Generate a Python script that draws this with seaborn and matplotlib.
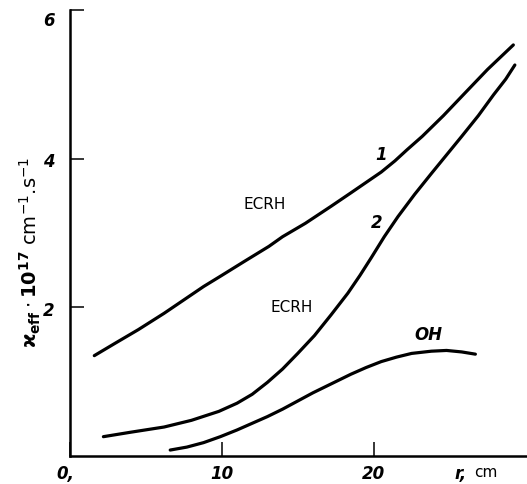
"""Radial profiles of the effective heat diffusivity (ECRH vs OH)."""

import matplotlib

matplotlib.use("Agg")
import matplotlib.pyplot as plt
import pandas as pd
import seaborn as sns

# Curve 1 (ECRH)
r_curve1 = [1.6, 3.0, 4.5, 6.2, 7.5, 8.8, 10.0, 11.5, 13.1, 14.0, 15.5, 17.2, 18.5, 19.5,
            20.5, 21.4, 22.2, 23.2, 24.6, 26.0, 27.5, 29.2]
k_curve1 = [1.35, 1.52, 1.7, 1.92, 2.1, 2.28, 2.43, 2.62, 2.82, 2.95, 3.13, 3.36, 3.54, 3.68,
            3.82, 3.97, 4.12, 4.3, 4.58, 4.88, 5.2, 5.53]

# Curve 2 (ECRH)
r_curve2 = [2.2, 4.0, 6.2, 8.0, 9.8, 11.0, 12.0, 13.0, 14.0, 15.0, 16.1, 17.2, 18.3, 19.1,
            19.85, 20.7, 21.6, 22.7, 23.8, 24.8, 25.8, 26.9, 27.9, 28.7, 29.3]
k_curve2 = [0.26, 0.32, 0.39, 0.48, 0.6, 0.71, 0.83, 0.99, 1.17, 1.38, 1.62, 1.9, 2.19, 2.43,
            2.67, 2.95, 3.22, 3.52, 3.8, 4.05, 4.3, 4.58, 4.86, 5.07, 5.26]

# OH curve
r_oh = [6.6, 7.7, 8.8, 9.9, 11.0, 12.0, 13.0, 14.0, 15.0, 16.0, 17.2, 18.5, 19.5, 20.5,
        21.5, 22.5, 23.8, 24.8, 25.8, 26.7]
k_oh = [0.08, 0.12, 0.18, 0.26, 0.35, 0.44, 0.53, 0.63, 0.74, 0.85, 0.97, 1.1, 1.19, 1.27,
        1.33, 1.38, 1.41, 1.42, 1.4, 1.37]

x_ticks = [0, 10, 20]
x_tick_labels = ["0,", "10", "20"]
y_ticks = [2, 4, 6]

sns.set_style("white")
plt.rcParams["font.family"] = ["DejaVu Sans"]
plt.rcParams["text.color"] = "black"

df = pd.concat(
    [
        pd.DataFrame({"r": r_curve1, "k": k_curve1, "curve": "1"}),
        pd.DataFrame({"r": r_curve2, "k": k_curve2, "curve": "2"}),
        pd.DataFrame({"r": r_oh, "k": k_oh, "curve": "OH"}),
    ],
    ignore_index=True,
)

fig = plt.figure(figsize=(5.27, 4.84), dpi=100)
ax = fig.add_axes([70 / 527, 28 / 484, 1 - 70 / 527, 446 / 484])

for name, grp in df.groupby("curve"):
    sns.lineplot(
        data=grp, x="r", y="k", ax=ax, color="black", linewidth=2.3,
        sort=False, estimator=None, legend=False,
    )

ax.set_xlim(0.28, 30.1)
ax.set_ylim(0, 6)

sns.despine(ax=ax)
for side in ["left", "bottom"]:
    ax.spines[side].set_linewidth(1.8)
    ax.spines[side].set_color("black")

ax.set_xticks(x_ticks)
ax.set_yticks(y_ticks)
ax.tick_params(axis="both", direction="in", length=10, width=1.1, colors="black",
               left=True, bottom=True)
ax.set_xticklabels([])
ax.set_yticklabels([])

# tick labels in the italic bold style of the original
lab_kw = dict(fontsize=12, fontstyle="italic", fontweight="bold", color="black")
for xt, lab in zip(x_ticks, x_tick_labels):
    ax.text(xt if xt else -0.3, -0.12, lab, ha="center", va="top", **lab_kw)
for yt in y_ticks:
    ax.text(-1.0, yt - 0.15 if yt == 6 else yt - 0.05, str(yt), ha="right", va="center", **lab_kw)

ax.text(25.3, -0.12, "r,", ha="left", va="top", **lab_kw)
ax.text(26.6, -0.12, "cm", ha="left", va="top", fontsize=11, color="black")

ax.set_xlabel("")
ax.set_ylabel("")
fig.text(
    30 / 527, 1 - 252 / 484,
    r"$\mathbf{\varkappa_{eff}}\cdot\mathbf{10^{17}}$ cm$^{-1}$.s$^{-1}$",
    rotation=90, ha="center", va="center", fontsize=14, color="black",
)

# curve annotations
ax.text(12.8, 3.38, "ECRH", ha="center", va="center", fontsize=11, color="black")
ax.text(14.6, 2.0, "ECRH", ha="center", va="center", fontsize=11, color="black")
ax.text(20.5, 4.05, "1", ha="center", va="center", **lab_kw)
ax.text(20.2, 3.14, "2", ha="center", va="center", **lab_kw)
ax.text(23.6, 1.63, "OH", ha="center", va="center", **lab_kw)

fig.savefig("out.png", dpi=100)
